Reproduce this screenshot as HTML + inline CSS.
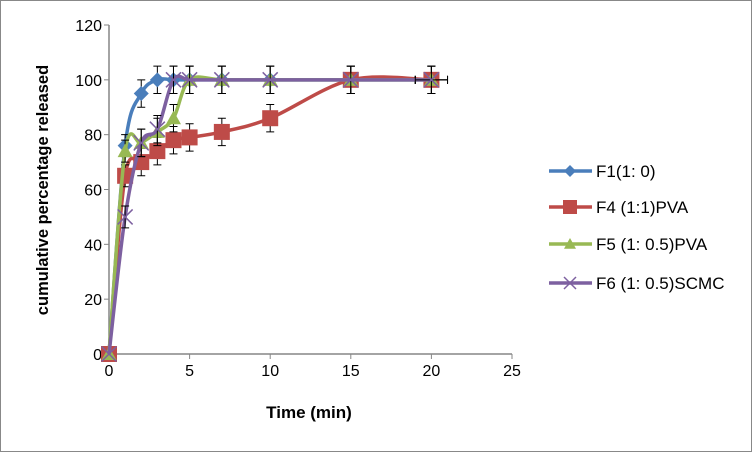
<!DOCTYPE html>
<html><head><meta charset="utf-8"><style>
html,body{margin:0;padding:0;background:#fff;}
svg text{font-family:"Liberation Sans",Arial,sans-serif;}
</style></head><body>
<svg id="chart" width="752" height="452" xmlns="http://www.w3.org/2000/svg">
<rect x="0.5" y="0.5" width="751" height="451" fill="#fff" stroke="#888"/>
<g id="axes"></g>
<g id="series"></g>
<g id="legend"></g>
<text transform="translate(48,190) rotate(-90)" text-anchor="middle" font-size="16.5" font-weight="bold">cumulative percentage released</text>
<text x="309" y="418" text-anchor="middle" font-size="17" font-weight="bold">Time (min)</text>
</svg>
<script>
const xTicks=[0,5,10,15,20,25];
const yTicks=[0,20,40,60,80,100,120];
const times=[0,1,2,3,4,5,7,10,15,20];
const seriesNames=["F1(1: 0)","F4 (1:1)PVA","F5 (1: 0.5)PVA","F6 (1: 0.5)SCMC"];
const f1=[0,76,95,100,100,100,100,100,100,100];
const f4=[0,65,70,74,78,79,81,86,100,100];
const f5=[0,74,77,81,86,100,100,100,100,100];
const f6=[0,50,77,82,100,100,100,100,100,100];
const errY=[0,4,5,5,5,5,5,5,5,5];
const colors=["#4a7ebb","#be4b48","#98b954","#7d60a0"];
const markers=["diamond","square","triangle","x"];
const NS="http://www.w3.org/2000/svg";
const X0=109,X1=512,Y0=354,Y1=25;
const sx=v=>X0+(v-0)/(25-0)*(X1-X0);
const sy=v=>Y0-(v-0)/(120-0)*(Y0-Y1);
function mk(tag,attrs,parent){const e=document.createElementNS(NS,tag);for(const k in attrs)e.setAttribute(k,attrs[k]);parent.appendChild(e);return e;}
const axes=document.getElementById('axes');
let a=mk('line',{x1:X0,y1:Y0,x2:X1,y2:Y0,stroke:'#868686','stroke-width':1.5},axes);


a=mk('line',{x1:X0,y1:Y0,x2:X0,y2:Y1,stroke:'#868686','stroke-width':1.5},axes);


xTicks.forEach(t=>{
 mk('line',{x1:sx(t),y1:Y0,x2:sx(t),y2:Y0+5,stroke:'#868686'},axes);
 const tx=mk('text',{x:sx(t),y:Y0+22,'text-anchor':'middle','font-size':16},axes);
 tx.textContent=t;
 
 
});
yTicks.forEach(t=>{
 mk('line',{x1:X0-5,y1:sy(t),x2:X0,y2:sy(t),stroke:'#868686'},axes);
 const tx=mk('text',{x:X0-7,y:sy(t)+6,'text-anchor':'end','font-size':16},axes);
 tx.textContent=t;
 
 
});
function smooth(pts){
 let d=`M${pts[0][0]},${pts[0][1]}`;
 for(let i=0;i<pts.length-1;i++){
  const p0=pts[i-1]||pts[i],p1=pts[i],p2=pts[i+1],p3=pts[i+2]||p2;
  const c1=[p1[0]+(p2[0]-p0[0])/6,p1[1]+(p2[1]-p0[1])/6];
  const c2=[p2[0]-(p3[0]-p1[0])/6,p2[1]-(p3[1]-p1[1])/6];
  d+=` C${c1[0]},${c1[1]} ${c2[0]},${c2[1]} ${p2[0]},${p2[1]}`;
 }
 return d;
}
function marker(g,type,x,y,c,s){
 if(type=='diamond')mk('polygon',{points:`${x},${y-s} ${x+s},${y} ${x},${y+s} ${x-s},${y}`,fill:c},g);
 else if(type=='square')mk('rect',{x:x-s,y:y-s,width:2*s,height:2*s,fill:c},g);
 else if(type=='triangle')mk('polygon',{points:`${x},${y-s} ${x+s},${y+s*0.8} ${x-s},${y+s*0.8}`,fill:c},g);
 else{mk('path',{d:`M${x-s},${y-s}L${x+s},${y+s}M${x+s},${y-s}L${x-s},${y+s}`,stroke:c,'stroke-width':1.5},g);}
}
const sg=document.getElementById('series');
[f1,f4,f5,f6].forEach((vals,si)=>{
 const g=mk('g',{},sg);
 
 
 const pts=vals.map((v,i)=>[sx(times[i]),sy(v)]);
 mk('path',{d:smooth(pts),fill:'none',stroke:colors[si],'stroke-width':3.5},g);
 vals.forEach((v,i)=>{
  const x=sx(times[i]),e=errY[i];
  if(e>0){
   mk('path',{d:`M${x},${sy(v-e)}V${sy(v+e)}M${x-4},${sy(v-e)}H${x+4}M${x-4},${sy(v+e)}H${x+4}`,stroke:'#000','stroke-width':1,fill:'none'},g);
  }
  if(i==vals.length-1){
   mk('path',{d:`M${sx(times[i]-1)},${sy(v)}H${sx(times[i]+1)}M${sx(times[i]-1)},${sy(v)-4}V${sy(v)+4}M${sx(times[i]+1)},${sy(v)-4}V${sy(v)+4}`,stroke:'#000','stroke-width':1,fill:'none'},g);
  }
  marker(g,markers[si],x,sy(v),colors[si],markers[si]=='square'?8:7.5);
 });
});
const lg=document.getElementById('legend');
const ly=[171,207,244,283];
seriesNames.forEach((n,i)=>{
 const g=mk('g',{},lg);
 
 
 mk('line',{x1:549,y1:ly[i],x2:592,y2:ly[i],stroke:colors[i],'stroke-width':3.5},g);
 marker(g,markers[i],570,ly[i],colors[i],markers[i]=='square'?7:6);
 const t=mk('text',{x:596,y:ly[i]+6,'font-size':17},g);
 t.textContent=n;
});
</script>
</body></html>
